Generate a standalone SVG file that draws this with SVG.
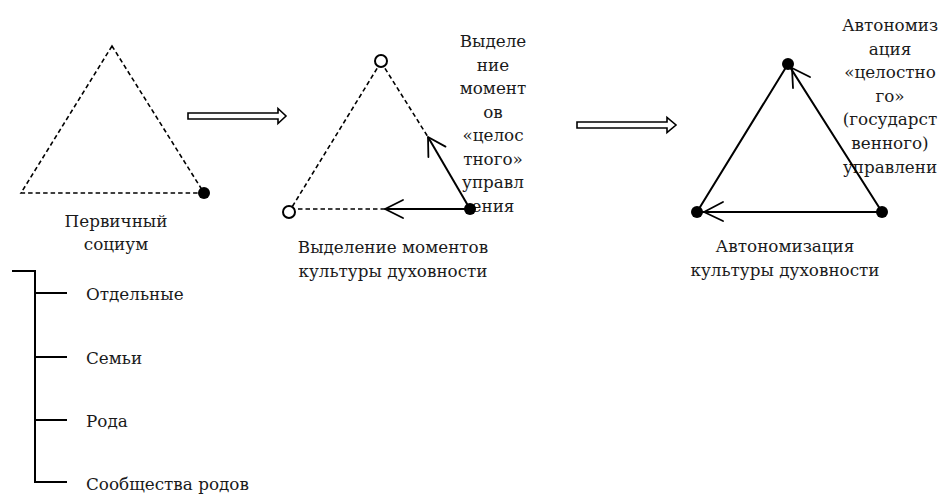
<svg xmlns="http://www.w3.org/2000/svg" width="943" height="496" viewBox="0 0 943 496">
<style>
text{font-family:'DejaVu Serif','Liberation Serif',serif;font-size:16.8px;fill:#1a1a1a}
.c{text-anchor:middle}
.d{fill:none;stroke:#000;stroke-width:1.6;stroke-dasharray:4.5 3}
.s{fill:none;stroke:#000;stroke-width:2}
.h{fill:none;stroke:#000;stroke-width:1.8;stroke-linecap:round;stroke-linejoin:round}
.dot{fill:#000}
.oc{fill:#fff;stroke:#000;stroke-width:2}
.blk{fill:#fff;stroke:#000;stroke-width:1.6;stroke-linejoin:miter}
.br{fill:none;stroke:#000;stroke-width:2}
</style>
<rect width="943" height="496" fill="#fff"/>

<g id="triangle1">
  <path class="d" d="M112 46 L21 193 L204 193 Z"/>
  <circle class="dot" cx="204" cy="193" r="6"/>
  <text class="c" x="116" y="227">Первичный</text>
  <text class="c" x="116" y="250">социум</text>
</g>

<g id="triangle2">
  <text class="c" x="493" y="47">Выделе</text>
  <text class="c" x="493" y="70.5">ние</text>
  <text class="c" x="493" y="94">момент</text>
  <text class="c" x="493" y="117.5">ов</text>
  <text class="c" x="493" y="141">«целос</text>
  <text class="c" x="493" y="164.5">тного»</text>
  <text class="c" x="493" y="188">управл</text>
  <text class="c" x="493" y="211.5">ения</text>
  <path class="d" d="M381 62 L289 212"/>
  <path class="d" d="M381 62 L428 137"/>
  <path class="d" d="M385 209 L289 209"/>
  <path class="s" d="M470 209 L428 137"/>
  <path class="s" d="M470 209 L385 209"/>
  <path class="h" d="M445.5 146.6 L428 137 L428.4 157"/>
  <path class="h" d="M403 200 L385 209 L403 218"/>
  <circle class="oc" cx="381" cy="61" r="6"/>
  <circle class="oc" cx="289" cy="212" r="6"/>
  <circle class="dot" cx="470" cy="209" r="6"/>
  <text class="c" x="393" y="253">Выделение моментов</text>
  <text class="c" x="393" y="276.5">культуры духовности</text>
</g>

<g id="triangle3">
  <text class="c" x="890" y="31">Автономиз</text>
  <text class="c" x="890" y="54.6">ация</text>
  <text class="c" x="890" y="78.2">«целостно</text>
  <text class="c" x="890" y="101.8">го»</text>
  <text class="c" x="890" y="125.4">(государст</text>
  <text class="c" x="890" y="149">венного)</text>
  <text class="c" x="890" y="172.6">управлени</text>
  <path class="s" d="M788 64 L697 212 L882 212 Z"/>
  <path class="h" d="M810 77 L792 68 L793 88"/>
  <path class="h" d="M723 202 L704 212 L723 221"/>
  <circle class="dot" cx="788" cy="64" r="6"/>
  <circle class="dot" cx="697" cy="212" r="6"/>
  <circle class="dot" cx="882" cy="212" r="6"/>
  <text class="c" x="785" y="252">Автономизация</text>
  <text class="c" x="785" y="275.5">культуры духовности</text>
</g>

<g id="connectors">
  <polygon class="blk" points="188,113 278,113 278,108.5 286,116 278,123.5 278,119 188,119"/>
  <polygon class="blk" points="577,122 667,122 667,117.5 676,125 667,132.5 667,128 577,128"/>
</g>

<g id="list">
  <path class="br" d="M12 271 H35 V482 H67 M35 293 H67 M35 357 H67 M35 420 H67"/>
  <text x="86" y="300">Отдельные</text>
  <text x="86" y="364">Семьи</text>
  <text x="86" y="427">Рода</text>
  <text x="86" y="490">Сообщества родов</text>
</g>
</svg>
